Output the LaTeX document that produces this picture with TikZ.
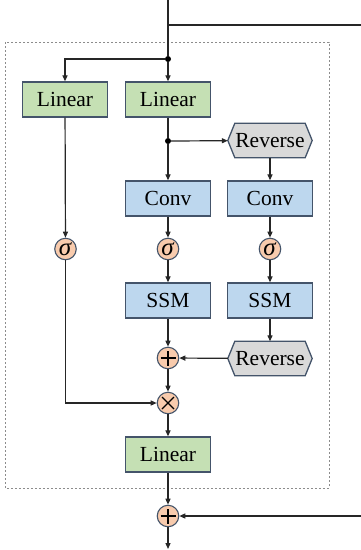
\documentclass[tikz,border=0pt]{standalone}
\usepackage{fontspec}
\setmainfont{Liberation Serif}
\usetikzlibrary{arrows.meta,backgrounds}
\definecolor{lingreen}{HTML}{C5E0B4}
\definecolor{convblue}{HTML}{BDD7EE}
\definecolor{revgray}{HTML}{D9D9D9}
\definecolor{opfill}{HTML}{F8CBAD}
\definecolor{edge}{HTML}{44546A}
\definecolor{lc}{HTML}{262626}
\definecolor{dashc}{HTML}{8C8C8C}
\begin{document}
\begin{tikzpicture}[x=1pt,y=-1pt,
  box/.style={draw=edge, line width=1.3pt, minimum width=85pt, minimum height=35pt,
    inner sep=0pt, font=\fontsize{21.5}{24}\selectfont},
  lin/.style={box, fill=lingreen},
  blu/.style={box, fill=convblue},
  op/.style={circle, draw=edge, fill=opfill, line width=1.1pt, minimum size=21.5pt,
    inner sep=0pt, font=\fontsize{25}{26}\selectfont},
  plusop/.style={op, path picture={
    \draw[black, line width=1.1pt] ([xshift=-7.5pt]path picture bounding box.center) -- ([xshift=7.5pt]path picture bounding box.center)
      ([yshift=-7.5pt]path picture bounding box.center) -- ([yshift=7.5pt]path picture bounding box.center);}},
  timesop/.style={op, path picture={
    \draw[black, line width=1.1pt] ([shift={(-6pt,-6pt)}]path picture bounding box.center) -- ([shift={(6pt,6pt)}]path picture bounding box.center)
      ([shift={(-6pt,6pt)}]path picture bounding box.center) -- ([shift={(6pt,-6pt)}]path picture bounding box.center);}},
  hexnode/.style={minimum width=84pt, minimum height=34pt, inner sep=0pt,
    font=\fontsize{21.5}{24}\selectfont},
  hexshape/.style={draw=edge, fill=revgray, line width=1.3pt, line join=miter},
  ln/.style={line width=1.2pt, draw=lc},
  arr/.style={ln, -{Triangle[length=6pt,width=5pt]}},
  jdot/.style={circle, fill=black, minimum size=6pt, inner sep=0pt},
]
\useasboundingbox (0,0) rectangle (361,550);

% block frame
\draw[dashc, line width=0.8pt, dash pattern=on 2pt off 2pt] (5,42) rectangle (329,488);

% free ends of the residual path
\coordinate (top) at (168,0);
\coordinate (split) at (168,25);
\coordinate (rtop) at (361,25);
\coordinate (rbot) at (361,516);
\coordinate (out) at (168,549);

% nodes
\node[jdot] (d1) at (168,59) {};
\node[lin] (lin1) at (65,99.5) {Linear};
\node[lin] (lin2) at (168,99.5) {Linear};
\node[jdot] (d2) at (168,141) {};
\node[hexnode] (rev1) at (270,140.5) {Reverse};
\node[blu] (conv1) at (168,198.5) {Conv};
\node[blu] (conv2) at (270,198.5) {Conv};
\node[op] (sig0) at (65.5,249) {\textit{σ}};
\node[op] (sig1) at (168,249) {\textit{σ}};
\node[op] (sig2) at (270,249) {\textit{σ}};
\node[blu] (ssm1) at (168,300.5) {SSM};
\node[blu] (ssm2) at (270,300.5) {SSM};
\node[plusop] (plus1) at (168,358) {};
\node[hexnode] (rev2) at (270,358.5) {Reverse};
\node[timesop] (times) at (168,403) {};
\node[lin] (lin3) at (168,454.5) {Linear};
\node[plusop] (plus2) at (168,516) {};

% hexagonal outlines of the Reverse nodes
\begin{scope}[on background layer]
  \foreach \n in {rev1,rev2}{
    \draw[hexshape] (\n.west) -- ([xshift=7pt]\n.north west) -- ([xshift=-7pt]\n.north east)
      -- (\n.east) -- ([xshift=-7pt]\n.south east) -- ([xshift=7pt]\n.south west) -- cycle;
  }
\end{scope}

% connectors
\draw[ln] (top) -- (d1);
\draw[ln] (split) -- (rtop);
\draw[arr] (d1) -| (lin1.north);
\draw[arr] (d1) -- (lin2);
\draw[ln] (lin2) -- (d2);
\draw[arr] (d2) -- (conv1);
\draw[arr] (d2) -- (rev1);
\draw[arr] (rev1) -- (conv2);
\draw[arr] (conv1) -- (sig1);
\draw[arr] (conv2) -- (sig2);
\draw[arr] (sig1) -- (ssm1);
\draw[arr] (sig2) -- (ssm2);
\draw[arr] (ssm1) -- (plus1);
\draw[arr] (ssm2) -- (rev2);
\draw[arr] (rev2) -- (plus1);
\draw[arr] (lin1) -- (sig0);
\draw[arr] (sig0) |- (times);
\draw[arr] (plus1) -- (times);
\draw[arr] (times) -- (lin3);
\draw[arr] (lin3) -- (plus2);
\draw[arr] (rbot) -- (plus2);
\draw[arr] (plus2) -- (out);
\end{tikzpicture}
\end{document}
